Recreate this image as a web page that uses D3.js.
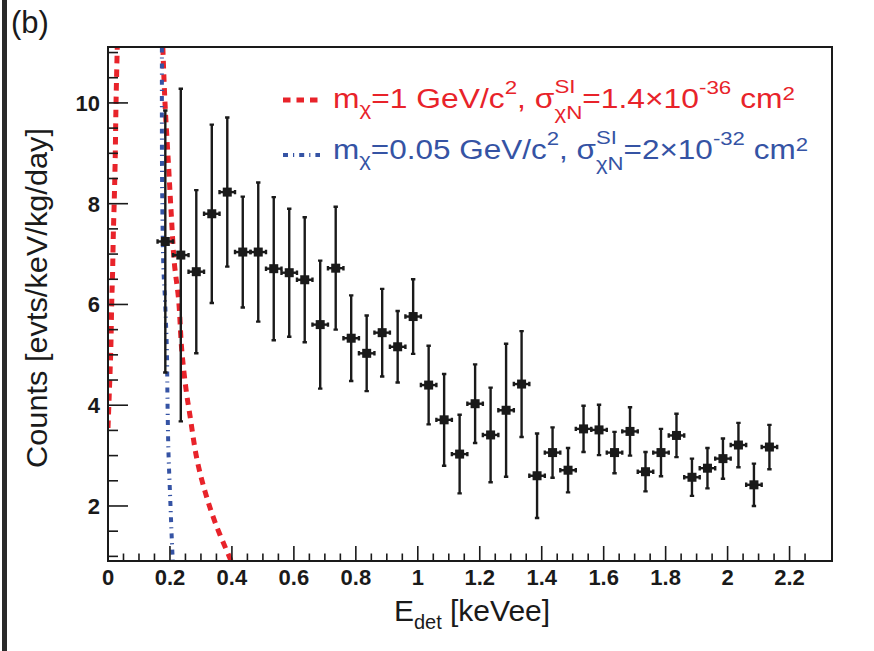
<!DOCTYPE html>
<html>
<head>
<meta charset="utf-8">
<script src="https://cdn.jsdelivr.net/npm/d3@7"></script>
<style>
  body { margin: 0; background: #fff; }
  svg { display: block; font-family: 'Liberation Sans', Arial, Helvetica, sans-serif; }
</style>
</head>
<body>
<svg id="chart"></svg>
<script>
// measured spectrum: bin centre [keVee], rate, symmetric error
const binCenters = [0.185, 0.235, 0.285, 0.335, 0.385, 0.435, 0.485, 0.535, 0.585, 0.635,
  0.685, 0.735, 0.785, 0.835, 0.885, 0.935, 0.985, 1.035, 1.085, 1.135,
  1.185, 1.235, 1.285, 1.335, 1.385, 1.435, 1.485, 1.535, 1.585, 1.635,
  1.685, 1.735, 1.785, 1.835, 1.885, 1.935, 1.985, 2.035, 2.085, 2.135];
const counts = [7.25, 6.98, 6.65, 7.80, 8.23, 7.04, 7.04, 6.71, 6.63, 6.49,
  5.60, 6.72, 5.33, 5.03, 5.44, 5.16, 5.76, 4.40, 3.71, 3.03,
  4.03, 3.41, 3.90, 4.42, 2.60, 3.06, 2.71, 3.53, 3.51, 3.06,
  3.48, 2.68, 3.06, 3.40, 2.57, 2.75, 2.94, 3.21, 2.42, 3.17];
const countErrors = [2.60, 3.30, 1.62, 1.77, 1.48, 1.10, 1.38, 1.42, 1.27, 1.24,
  1.27, 1.22, 0.85, 0.75, 0.87, 0.71, 0.74, 0.78, 0.91, 0.78,
  0.78, 0.94, 1.32, 1.05, 0.84, 0.50, 0.44, 0.46, 0.50, 0.41,
  0.48, 0.39, 0.47, 0.43, 0.37, 0.40, 0.40, 0.44, 0.42, 0.44];
const binHalfWidth = 0.025;

// expected signal curves [E, rate]
const heavyCurveLow = [[0.000, 3.55], [0.004, 4.21], [0.009, 5.10], [0.012, 6.03], [0.015, 6.69],
  [0.017, 7.35], [0.020, 8.02], [0.023, 8.81], [0.026, 10.03], [0.030, 11.13]];
const heavyCurve = [[0.177, 11.1], [0.184, 10.0], [0.195, 8.8], [0.204, 7.81], [0.214, 6.83],
  [0.228, 6.09], [0.238, 5.10], [0.252, 4.31], [0.265, 3.78], [0.287, 2.93], [0.314, 2.27],
  [0.346, 1.67], [0.389, 1.03], [0.398, 0.9]];
const lightCurve = [[0.174, 11.1], [0.174, 9.46], [0.175, 8.14], [0.179, 6.69], [0.184, 6.09],
  [0.190, 5.10], [0.192, 4.11], [0.195, 3.11], [0.201, 2.12], [0.206, 1.33], [0.209, 0.9]];

const xTickLabels = [0, 0.2, 0.4, 0.6, 0.8, 1, 1.2, 1.4, 1.6, 1.8, 2, 2.2];
const yTickLabels = [2, 4, 6, 8, 10];

const RED = '#e8232a';
const BLUE = '#3553a4';
const INK = '#1a1a1a';
const NBSP = '\u00a0';

class SpectrumPlot {
  constructor(_config) {
    this.config = {
      parentElement: _config.parentElement,
      containerWidth: 874,
      containerHeight: 651,
      margin: { top: 47, right: 42, bottom: 90, left: 108 },
    };
    this.initVis();
  }

  initVis() {
    let vis = this;
    const m = vis.config.margin;
    vis.width = vis.config.containerWidth - m.left - m.right;
    vis.height = vis.config.containerHeight - m.top - m.bottom;

    vis.xScale = d3.scaleLinear().domain([0, 2.337]).range([0, vis.width]);
    vis.yScale = d3.scaleLinear().domain([0.908, 11.11]).range([vis.height, 0]);

    vis.svg = d3.select(vis.config.parentElement)
      .attr('width', vis.config.containerWidth)
      .attr('height', vis.config.containerHeight);

    // dark page edge on the left
    vis.svg.append('rect')
      .attr('x', 2).attr('y', 0).attr('width', 5).attr('height', vis.config.containerHeight)
      .attr('fill', '#2a2a2a');

    vis.svg.append('text')
      .attr('x', 11).attr('y', 33)
      .attr('font-size', 31)
      .attr('fill', INK)
      .text('(b)');

    vis.chart = vis.svg.append('g')
      .attr('transform', `translate(${m.left},${m.top})`);

    vis.chart.append('clipPath').attr('id', 'plot-clip')
      .append('rect').attr('width', vis.width).attr('height', vis.height);

    vis.marks = vis.chart.append('g').attr('clip-path', 'url(#plot-clip)');
    vis.axes = vis.chart.append('g');

    vis.renderVis();
  }

  renderVis() {
    let vis = this;
    const line = d3.line()
      .x((d) => vis.xScale(d[0]))
      .y((d) => vis.yScale(d[1]))
      .curve(d3.curveCatmullRom);

    // signal curves
    [heavyCurveLow, heavyCurve].forEach((c) => {
      vis.marks.append('path')
        .attr('d', line(c))
        .attr('fill', 'none')
        .attr('stroke', RED)
        .attr('stroke-width', 5)
        .attr('stroke-dasharray', '7.5,6');
    });
    vis.marks.append('path')
      .attr('d', line(lightCurve))
      .attr('fill', 'none')
      .attr('stroke', BLUE)
      .attr('stroke-width', 4)
      .attr('stroke-dasharray', '5,5,1.2,5');

    // data points with error bars
    const pts = binCenters.map((x, i) => ({ x, y: counts[i], e: countErrors[i] }));
    const pg = vis.marks.selectAll('.pt').data(pts).join('g').attr('class', 'pt');
    const cap = 2.2;
    pg.append('line')
      .attr('x1', (d) => vis.xScale(d.x)).attr('x2', (d) => vis.xScale(d.x))
      .attr('y1', (d) => vis.yScale(d.y - d.e)).attr('y2', (d) => vis.yScale(d.y + d.e));
    pg.append('line')
      .attr('x1', (d) => vis.xScale(d.x - binHalfWidth)).attr('x2', (d) => vis.xScale(d.x + binHalfWidth))
      .attr('y1', (d) => vis.yScale(d.y)).attr('y2', (d) => vis.yScale(d.y));
    // end caps
    pg.append('path')
      .attr('d', (d) => {
        const cx = vis.xScale(d.x);
        const cy = vis.yScale(d.y);
        const yt = vis.yScale(d.y + d.e);
        const yb = vis.yScale(d.y - d.e);
        const xl = vis.xScale(d.x - binHalfWidth);
        const xr = vis.xScale(d.x + binHalfWidth);
        return `M${cx - cap},${yt}H${cx + cap}M${cx - cap},${yb}H${cx + cap}`
          + `M${xl},${cy - cap}V${cy + cap}M${xr},${cy - cap}V${cy + cap}`;
      });
    pg.selectAll('line, path')
      .attr('stroke', INK)
      .attr('stroke-width', 2.4)
      .attr('fill', 'none');
    pg.append('rect')
      .attr('x', (d) => vis.xScale(d.x) - 4.5).attr('y', (d) => vis.yScale(d.y) - 4.5)
      .attr('width', 9).attr('height', 9)
      .attr('fill', INK);

    // frame
    vis.axes.append('rect')
      .attr('width', vis.width).attr('height', vis.height)
      .attr('fill', 'none').attr('stroke', INK).attr('stroke-width', 2);

    // ticks drawn inside the frame, ROOT style
    const xMinor = d3.range(0, 46).map((i) => i * 0.05);
    vis.axes.selectAll('.xtick').data(xMinor).join('line')
      .attr('class', 'xtick')
      .attr('x1', (d) => vis.xScale(d)).attr('x2', (d) => vis.xScale(d))
      .attr('y1', vis.height)
      .attr('y2', (d, i) => vis.height - (i % 4 === 0 ? 15 : 7.5))
      .attr('stroke', INK).attr('stroke-width', 1.6);

    const yMinor = d3.range(2, 23).map((i) => i * 0.5);
    vis.axes.selectAll('.ytick').data(yMinor).join('line')
      .attr('class', 'ytick')
      .attr('y1', (d) => vis.yScale(d)).attr('y2', (d) => vis.yScale(d))
      .attr('x1', 0)
      .attr('x2', (d) => (d % 2 === 0 ? 20 : 10))
      .attr('stroke', INK).attr('stroke-width', 1.6);

    vis.axes.selectAll('.xlab').data(xTickLabels).join('text')
      .attr('class', 'xlab')
      .attr('x', (d) => vis.xScale(d))
      .attr('y', vis.height + 24)
      .attr('text-anchor', 'middle')
      .attr('font-size', 22).attr('font-weight', 'bold').attr('fill', INK)
      .text((d) => d);

    vis.axes.selectAll('.ylab').data(yTickLabels).join('text')
      .attr('class', 'ylab')
      .attr('x', -8)
      .attr('y', (d) => vis.yScale(d) + 8)
      .attr('text-anchor', 'end')
      .attr('font-size', 22).attr('font-weight', 'bold').attr('fill', INK)
      .text((d) => d);

    // axis titles
    const xt = vis.axes.append('text')
      .attr('x', vis.width / 2 + 2).attr('y', vis.height + 60)
      .attr('text-anchor', 'middle')
      .attr('font-size', 30).attr('fill', INK);
    xt.append('tspan').text('E');
    xt.append('tspan').attr('font-size', 20).attr('dy', 8).text('det');
    xt.append('tspan').attr('dy', -8).text(`${NBSP}[keVee]`);

    vis.svg.append('text')
      .attr('transform', `translate(47,298) rotate(-90)`)
      .attr('text-anchor', 'middle')
      .attr('font-size', 29).attr('fill', INK)
      .attr('textLength', 340).attr('lengthAdjust', 'spacingAndGlyphs')
      .text('Counts [evts/keV/kg/day]');

    // legend
    vis.legendEntry(RED, '7.5,6', 5, 100, 108, 462, [
      ['m'], ['χ', 'sub'], ['=1 GeV/c'], ['2', 'sup'], [`,${NBSP}σ`], ['SI', 'χN'],
      ['=1.4×10'], ['-36', 'sup'], [`${NBSP}cm`], ['2', 'supLow']]);
    vis.legendEntry(BLUE, '5,5,1.2,5', 4, 155, 159, 475, [
      ['m'], ['χ', 'sub'], ['=0.05 GeV/c'], ['2', 'sup'], [`,${NBSP}σ`], ['SI', 'χN'],
      ['=2×10'], ['-32', 'sup'], [`${NBSP}cm`], ['2', 'supLow']]);
  }

  // draws a legend sample line and a text made of pieces with sub/superscripts,
  // stretched horizontally to the width it has in the original figure
  legendEntry(color, dash, width, sampleY, baseline, span, parts) {
    let vis = this;
    const x0 = 333;
    vis.svg.append('line')
      .attr('x1', 283).attr('x2', 320)
      .attr('y1', sampleY).attr('y2', sampleY)
      .attr('stroke', color).attr('stroke-width', width)
      .attr('stroke-dasharray', dash);

    const g = vis.svg.append('g').attr('fill', color);
    let x = x0;
    const put = (str, size, y) => {
      const t = g.append('text').attr('x', x).attr('y', y).attr('font-size', size).text(str);
      return t.node().getComputedTextLength();
    };
    parts.forEach(([s, kind]) => {
      if (!kind) {
        x += put(s, 27, baseline);
      } else if (kind === 'sub') {
        x += put(s, 19, baseline + 7);
      } else if (kind === 'sup') {
        x += put(s, 19, baseline - 14);
      } else if (kind === 'supLow') {
        x += put(s, 19, baseline - 8);
      } else {
        // stacked superscript / subscript
        const w1 = put(s, 19, baseline - 15);
        const w2 = put(kind, 19, baseline + 11);
        x += Math.max(w1, w2);
      }
    });
    const k = span / (x - x0);
    g.attr('transform', `translate(${x0},0) scale(${k},1) translate(${-x0},0)`);
  }
}

new SpectrumPlot({ parentElement: '#chart' });
</script>
</body>
</html>
